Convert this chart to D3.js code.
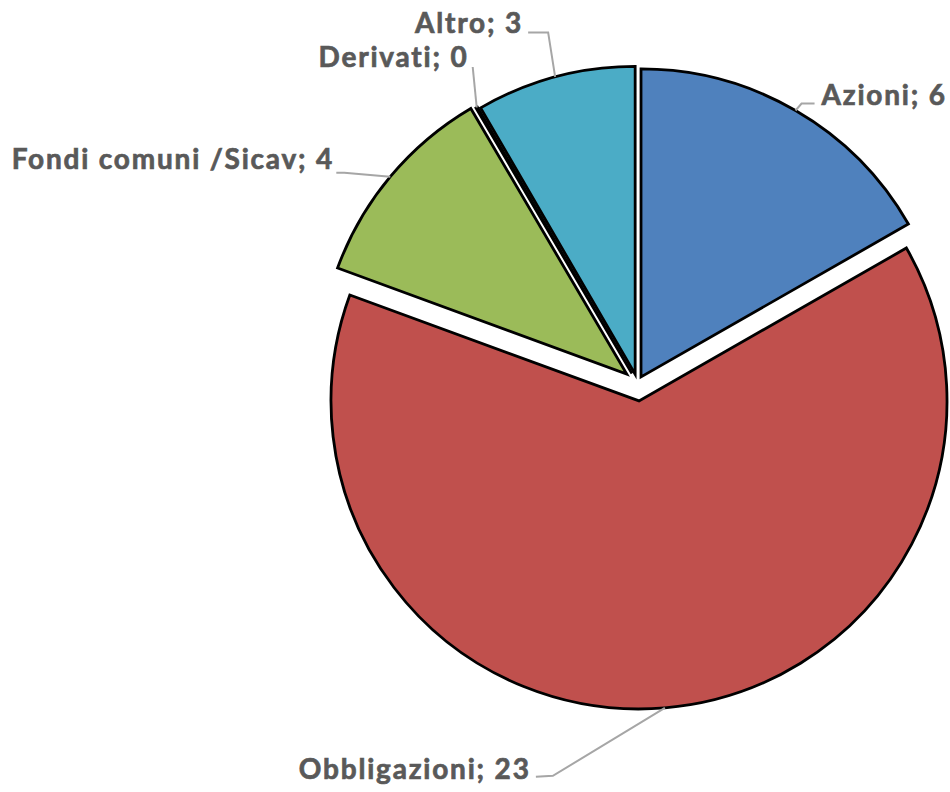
<!DOCTYPE html>
<html><head><meta charset="utf-8">
<script src="https://cdn.jsdelivr.net/npm/d3@7"></script>
<style>body{margin:0;background:#fff}</style>
</head><body>
<svg id="chart" width="950" height="792"></svg>
<script>
// ---- data ----
const categories = ["Azioni", "Obbligazioni", "Fondi comuni /Sicav", "Derivati", "Altro"];
const values = [6.0, 22.9, 3.93, 0.03, 3.0];
const colors = ["#4F81BD", "#C0504D", "#9BBB59", "#8064A2", "#4BACC6"];

// ---- style / layout ----
const CENTER = [637.5, 383];
const RADIUS = 308;
const EXPLODE = [7, 18, 14, 11, 9];            // pull-out distance per slice
const LETTER_SPACING = 1.8;
// leader: elbow offset and end offset from the arc point, text offset from the end
const LABELS = [
  {elbow: [6, -7],    end: [19, -7],   text: [7, 1],  anchor: "start"},
  {elbow: [-112, 68], end: [-129, 69], text: [-7 + LETTER_SPACING, 2], anchor: "end"},
  {elbow: [-46, -4],  end: [-54, -4],  text: [-4 + LETTER_SPACING, -4], anchor: "end"},
  {elbow: [-4, -40.5], end: [-4, -40.5], text: [-6 + LETTER_SPACING, 0], anchor: "end"},
  {elbow: [-7, -44.5], end: [-27, -44.5], text: [-7 + LETTER_SPACING, 1], anchor: "end"}
];

const data = categories.map((c, i) => ({name: c, value: values[i], color: colors[i], i}));
const svg = d3.select("#chart");
const g = svg.append("g").attr("transform", `translate(${CENTER[0]},${CENTER[1]})`);

const pie = d3.pie().sort(null).value(d => d.value);
const arcs = pie(data);
const arc = d3.arc().innerRadius(0).outerRadius(RADIUS);
const fmt = d3.format(".0f");

function dir(a) { return [Math.sin(a), -Math.cos(a)]; }

const slices = g.selectAll("g.slice").data(arcs).join("g")
  .attr("class", "slice")
  .attr("transform", d => {
    const m = (d.startAngle + d.endAngle) / 2, v = dir(m), e = EXPLODE[d.data.i];
    return `translate(${v[0] * e},${v[1] * e})`;
  });

slices.append("path")
  .attr("d", arc)
  .attr("fill", d => d.data.color)
  .attr("stroke", "#000")
  .attr("stroke-width", 2.8)
  .attr("stroke-linejoin", "miter");

// labels
arcs.forEach(d => {
  const i = d.data.i, L = LABELS[i];
  const m = (d.startAngle + d.endAngle) / 2, v = dir(m), e = EXPLODE[i];
  const p = [v[0] * (RADIUS + e), v[1] * (RADIUS + e)];
  const el = [p[0] + L.elbow[0], p[1] + L.elbow[1]];
  const en = [p[0] + L.end[0], p[1] + L.end[1]];
  g.append("path")
    .attr("d", d3.line()([p, el, en]))
    .attr("fill", "none")
    .attr("stroke", "#A6A6A6")
    .attr("stroke-width", 2);
  g.append("text")
    .attr("x", en[0] + L.text[0])
    .attr("y", en[1] + L.text[1])
    .attr("text-anchor", L.anchor)
    .attr("font-family", "Lato, 'Open Sans', sans-serif")
    .attr("font-weight", "bold")
    .attr("font-size", 28)
    .attr("letter-spacing", LETTER_SPACING)
    .attr("fill", "#595959")
    .attr("stroke", "#595959")
    .attr("stroke-width", 0.7)
    .text(`${d.data.name}; ${fmt(d.data.value)}`);
});
</script>
</body></html>
